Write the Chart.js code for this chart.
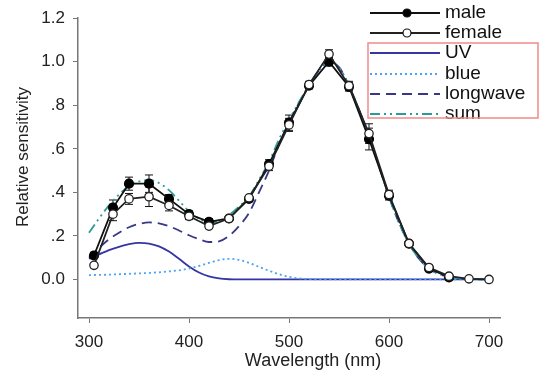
<!DOCTYPE html>
<html>
<head>
<meta charset="utf-8">
<script src="https://cdn.jsdelivr.net/npm/chart.js@4"></script>
<style>
  body { margin: 0; background: #fff; }
  canvas { display: block; }
</style>
</head>
<body>
<canvas id="chart-sens" width="550" height="383"></canvas>
<script>
// measured points
const wlData = [305, 324, 340, 360, 380, 400, 420, 440, 460, 480, 500, 520, 540, 560, 580, 600, 620, 640, 660, 680, 700];
const maleVals = [0.11, 0.33, 0.44, 0.44, 0.37, 0.30, 0.265, 0.28, 0.37, 0.53, 0.72, 0.89, 1.00, 0.885, 0.645, 0.385, 0.165, 0.05, 0.01, 0.002, 0.0];
const maleErr = [0.015, 0.035, 0.03, 0.04, 0.02, 0.015, 0.015, 0.01, 0.01, 0.02, 0.035, 0.015, 0.02, 0.02, 0.05, 0.02, 0.01, 0.01, 0.005, 0, 0];
const femaleVals = [0.065, 0.30, 0.37, 0.38, 0.34, 0.29, 0.245, 0.28, 0.375, 0.52, 0.71, 0.895, 1.035, 0.89, 0.67, 0.39, 0.165, 0.055, 0.015, 0.003, 0.0];
const femaleErr = [0.01, 0.03, 0.025, 0.045, 0.025, 0.015, 0.01, 0.01, 0.01, 0.02, 0.03, 0.015, 0.02, 0.02, 0.045, 0.02, 0.01, 0.01, 0.005, 0, 0];

// model curves
const wlModel = [300, 310, 320, 330, 340, 350, 360, 370, 380, 390, 400, 410, 420, 430, 440, 450, 460, 470, 480, 490, 500,
                 510, 520, 530, 540, 550, 560, 570, 580, 590, 600, 610, 620, 630, 640, 650, 660, 670, 680, 690, 700];
const uvVals = [0.095, 0.115, 0.135, 0.15, 0.162, 0.168, 0.165, 0.152, 0.128, 0.095, 0.06, 0.032, 0.014, 0.005, 0.001, 0, 0, 0, 0, 0, 0,
                0, 0, 0, 0, 0, 0, 0, 0, 0, 0, 0, 0, 0, 0, 0, 0, 0, 0, 0, 0];
const blueVals = [0.02, 0.021, 0.022, 0.024, 0.026, 0.028, 0.03, 0.033, 0.037, 0.042, 0.05, 0.062, 0.076, 0.089, 0.095, 0.09, 0.076, 0.058, 0.04, 0.024, 0.012,
                  0.005, 0.002, 0, 0, 0, 0, 0, 0, 0, 0, 0, 0, 0, 0, 0, 0, 0, 0, 0, 0];
const longVals = [0.10, 0.145, 0.185, 0.215, 0.24, 0.255, 0.262, 0.258, 0.245, 0.225, 0.203, 0.185, 0.172, 0.175, 0.2, 0.245, 0.305, 0.40, 0.50, 0.62, 0.72,
                  0.81, 0.89, 0.96, 1.0, 0.975, 0.89, 0.78, 0.655, 0.52, 0.38, 0.26, 0.165, 0.095, 0.05, 0.025, 0.012, 0.005, 0.002, 0.001, 0];
const sumVals = [0.215, 0.28, 0.34, 0.39, 0.428, 0.45, 0.457, 0.443, 0.41, 0.362, 0.313, 0.279, 0.262, 0.269, 0.296, 0.335, 0.381, 0.458, 0.54, 0.644, 0.732,
                 0.815, 0.892, 0.96, 1.0, 0.975, 0.89, 0.78, 0.655, 0.52, 0.38, 0.26, 0.165, 0.095, 0.05, 0.025, 0.012, 0.005, 0.002, 0.001, 0];

const xTicks = [300, 400, 500, 600, 700];
const yTicks = [0, 0.2, 0.4, 0.6, 0.8, 1.0, 1.2];

const pts = (xs, ys) => xs.map((x, i) => ({ x: x, y: ys[i] }));
const FONT = 'Liberation Sans, Arial, sans-serif';

// error bars + legend + axis titles
const extras = {
    id: 'extras',
    beforeDatasetsDraw(chart) {
        const ctx = chart.ctx;
        const xs = chart.scales.x, ys = chart.scales.y;
        ctx.save();
        ctx.strokeStyle = '#111';
        ctx.lineWidth = 1;
        [[maleVals, maleErr], [femaleVals, femaleErr]].forEach(([vals, errs]) => {
            vals.forEach((v, i) => {
                if (!errs[i]) return;
                const px = xs.getPixelForValue(wlData[i]);
                const top = ys.getPixelForValue(v + errs[i]);
                const bot = ys.getPixelForValue(v - errs[i]);
                ctx.beginPath();
                ctx.moveTo(px, top); ctx.lineTo(px, bot);
                ctx.moveTo(px - 4, top); ctx.lineTo(px + 4, top);
                ctx.moveTo(px - 4, bot); ctx.lineTo(px + 4, bot);
                ctx.stroke();
            });
        });
        ctx.restore();
    },
    afterDraw(chart) {
        const ctx = chart.ctx;
        ctx.save();
        // axis titles
        ctx.fillStyle = '#222';
        ctx.font = '18px ' + FONT;
        ctx.textAlign = 'center';
        ctx.textBaseline = 'middle';
        ctx.fillText('Wavelength (nm)', 313, 361);
        ctx.save();
        ctx.translate(23, 157);
        ctx.rotate(-Math.PI / 2);
        ctx.font = '17px ' + FONT;
        ctx.fillText('Relative sensitivity', 0, 0);
        ctx.restore();

        // legend
        const rows = [13, 33, 53, 74, 94, 114];
        const x0 = 370, x1 = 440;
        chart.data.datasets.forEach((ds, i) => {
            const y = rows[i];
            ctx.beginPath();
            ctx.setLineDash(ds.borderDash || []);
            ctx.strokeStyle = ds.borderColor;
            ctx.lineWidth = ds.borderWidth;
            ctx.moveTo(x0, y); ctx.lineTo(x1, y);
            ctx.stroke();
            ctx.setLineDash([]);
            if (ds.pointRadius) {
                ctx.beginPath();
                ctx.arc(407, y, 4, 0, Math.PI * 2);
                ctx.fillStyle = ds.pointBackgroundColor;
                ctx.fill();
                ctx.lineWidth = 1.2;
                ctx.strokeStyle = '#111';
                ctx.stroke();
            }
            ctx.fillStyle = '#111';
            ctx.font = '19px ' + FONT;
            ctx.textAlign = 'left';
            ctx.textBaseline = 'middle';
            ctx.fillText(ds.label, 445, y);
        });
        ctx.strokeStyle = '#f08a8a';
        ctx.lineWidth = 1.5;
        ctx.strokeRect(368, 43, 170, 75);
        ctx.restore();
    }
};

const chartSens = new Chart(document.getElementById('chart-sens').getContext('2d'), {
    type: 'line',
    data: {
        datasets: [{
            label: 'male',
            data: pts(wlData.slice(0, 19), maleVals.slice(0, 19)),
            borderColor: '#111',
            borderWidth: 1.8,
            pointRadius: 4.2,
            pointBackgroundColor: '#000',
            pointBorderColor: '#000',
            order: 2
        }, {
            label: 'female',
            data: pts(wlData, femaleVals),
            borderColor: '#222',
            borderWidth: 1.8,
            pointRadius: 4.2,
            pointBackgroundColor: '#fff',
            pointBorderColor: '#222',
            pointBorderWidth: 1.3,
            order: 1
        }, {
            label: 'UV',
            data: pts(wlModel, uvVals),
            borderColor: '#3535a5',
            borderWidth: 1.8,
            pointRadius: 0,
            cubicInterpolationMode: 'monotone',
            order: 6
        }, {
            label: 'blue',
            data: pts(wlModel, blueVals),
            borderColor: '#4aa3f5',
            borderWidth: 1.8,
            borderDash: [2, 3],
            pointRadius: 0,
            cubicInterpolationMode: 'monotone',
            order: 5
        }, {
            label: 'longwave',
            data: pts(wlModel, longVals),
            borderColor: '#383888',
            borderWidth: 1.8,
            borderDash: [10, 6],
            pointRadius: 0,
            cubicInterpolationMode: 'monotone',
            order: 4
        }, {
            label: 'sum',
            data: pts(wlModel, sumVals),
            borderColor: '#2a9a9a',
            borderWidth: 1.8,
            borderDash: [10, 4, 2, 4, 2, 4],
            pointRadius: 0,
            cubicInterpolationMode: 'monotone',
            order: 3
        }]
    },
    options: {
        responsive: false,
        animation: false,
        devicePixelRatio: 1,
        layout: { padding: { top: 15, right: 50, left: 0, bottom: 0 } },
        scales: {
            x: {
                type: 'linear',
                min: 289,
                max: 711,
                afterBuildTicks: (s) => { s.ticks = xTicks.map(v => ({ value: v })); },
                afterFit: (s) => { s.height = 65; },
                grid: { drawOnChartArea: false, tickLength: 5, color: '#777' },
                border: { color: '#777', width: 1.5 },
                ticks: { color: '#222', font: { size: 17, family: FONT }, padding: 9, maxRotation: 0 }
            },
            y: {
                min: -0.177,
                max: 1.2,
                afterBuildTicks: (s) => { s.ticks = yTicks.map(v => ({ value: v })); },
                afterFit: (s) => { s.width = 78; },
                grid: { drawOnChartArea: false, tickLength: 5, color: '#777' },
                border: { color: '#777', width: 1.5 },
                ticks: {
                    color: '#222',
                    font: { size: 17, family: FONT },
                    padding: 8,
                    callback: (v) => {
                        if (v === 0 || v >= 1) return v.toFixed(1);
                        return v.toFixed(1).replace(/^0/, '');
                    }
                }
            }
        },
        plugins: {
            legend: { display: false },
            tooltip: { enabled: false }
        }
    },
    plugins: [extras]
});
</script>
</body>
</html>
